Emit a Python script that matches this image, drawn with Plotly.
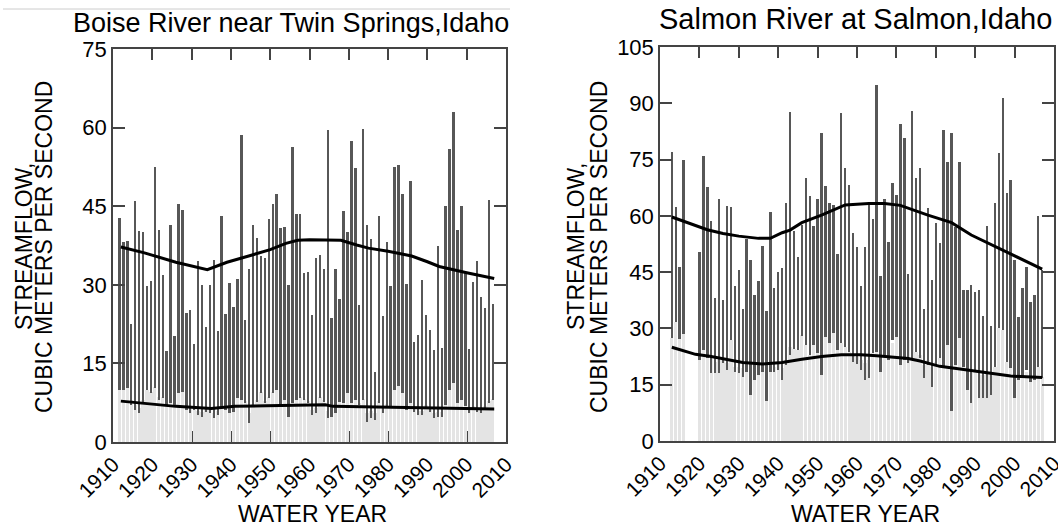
import plotly.graph_objects as go

# ---------------- DATA ----------------
boise_years = list(range(1912, 2008))
boise_high = [42.7, 38.1, 38.3, 22.5, 46.0, 40.2, 40.0, 29.7, 30.8, 52.4, 40.4, 31.8, 17.3, 41.4, 20.3, 45.5,
              44.2, 24.6, 25.1, 18.7, 34.6, 29.9, 21.9, 30.0, 34.8, 21.2, 43.2, 24.5, 30.3, 25.8, 31.2, 58.5,
              23.2, 33.0, 41.4, 38.9, 35.5, 35.1, 42.6, 45.5, 47.3, 40.8, 41.1, 29.9, 56.3, 43.6, 43.6, 32.3,
              32.4, 24.2, 35.1, 35.7, 33.1, 59.6, 23.7, 33.1, 27.2, 44.0, 40.0, 57.5, 52.2, 26.2, 59.7, 41.5,
              38.8, 13.3, 43.2, 24.0, 38.1, 29.7, 52.4, 52.9, 47.4, 30.2, 49.8, 19.0, 20.5, 30.9, 24.2, 21.3,
              17.6, 37.4, 17.9, 45.0, 55.9, 62.9, 40.5, 45.0, 32.3, 17.8, 30.5, 34.5, 27.7, 25.5, 46.2, 26.3]
boise_low = [9.9, 10.0, 10.3, 7.1, 6.1, 5.5, 7.4, 9.9, 9.3, 10.3, 8.0, 8.4, 6.8, 7.4, 7.1, 9.3,
             9.6, 6.1, 5.5, 6.1, 5.2, 4.8, 5.8, 5.5, 4.5, 5.2, 6.4, 6.1, 5.5, 5.8, 8.4, 8.0,
             7.4, 3.7, 6.8, 7.7, 9.3, 7.4, 8.4, 9.3, 9.9, 6.8, 8.0, 4.8, 7.4, 8.0, 8.4, 8.0,
             7.4, 5.2, 5.5, 8.4, 7.7, 4.5, 4.8, 5.5, 7.7, 7.4, 9.3, 7.4, 8.0, 7.1, 8.0, 3.9,
             4.5, 4.2, 7.4, 5.5, 6.8, 6.8, 9.9, 10.6, 9.3, 6.1, 7.4, 5.8, 5.2, 5.2, 6.4, 5.8,
             4.5, 4.8, 4.8, 7.1, 9.9, 11.2, 7.4, 8.0, 6.8, 5.5, 6.1, 5.8, 5.5, 6.1, 7.4, 8.0]
boise_light = [10.0, 10.2, 10.5, 8.0, 7.0, 6.5, 8.0, 10.0, 9.5, 10.5, 8.5, 8.5, 7.0, 7.8, 7.5, 9.5,
               9.8, 7.0, 6.5, 6.5, 6.0, 5.8, 6.5, 6.2, 5.5, 6.0, 7.0, 6.8, 6.5, 6.5, 8.5, 8.2,
               7.8, 5.5, 7.2, 8.0, 9.5, 7.8, 8.5, 9.5, 10.0, 7.2, 8.2, 6.0, 8.0, 8.2, 8.5, 8.2,
               7.8, 6.2, 6.5, 8.5, 8.0, 6.0, 6.0, 6.5, 8.0, 7.8, 9.5, 7.8, 8.2, 7.5, 8.2, 5.5,
               6.0, 5.5, 7.8, 6.5, 7.2, 7.2, 10.0, 10.8, 9.5, 6.8, 7.8, 6.5, 6.0, 6.0, 7.0, 6.5,
               5.5, 5.8, 5.8, 7.5, 10.0, 11.5, 8.0, 8.2, 7.2, 6.2, 6.8, 6.5, 6.2, 6.8, 7.8, 8.2]
boise_upper_years = [1912, 1918, 1926, 1931, 1934, 1939, 1945, 1950, 1954, 1957, 1960, 1964, 1968, 1972,
                     1975, 1980, 1986, 1990, 1993, 2000, 2007]
boise_upper = [37.2, 36.1, 34.3, 33.4, 32.9, 34.3, 35.6, 36.7, 37.9, 38.5, 38.6, 38.5, 38.5, 37.6,
               37.0, 36.4, 35.5, 34.4, 33.5, 32.3, 31.2]
boise_lower_years = [1912, 1920, 1926, 1935, 1941, 1949, 1960, 1964, 1966, 1977, 1990, 2000, 2007]
boise_lower = [7.8, 7.3, 6.8, 6.4, 6.8, 6.9, 7.1, 7.1, 6.8, 6.7, 6.5, 6.4, 6.3]

salmon_years = [1913, 1914, 1915, 1916] + list(range(1920, 2008))
salmon_high = [77.1, 62.3, 46.3, 74.9,
               50.5, 76.0, 67.7, 58.6, 38.2, 64.6, 37.7, 62.6, 62.4, 41.3, 45.7, 35.3, 53.8, 48.2,
               38.9, 42.6, 51.9, 34.7, 60.9, 40.7, 45.0, 46.0, 63.5, 87.6, 56.0, 49.1, 57.6, 70.0,
               65.4, 57.4, 64.4, 82.0, 68.0, 63.3, 62.9, 49.8, 87.5, 72.7, 68.2, 55.3, 51.8,
               41.3, 51.8, 63.8, 59.1, 94.9, 44.1, 64.4, 53.0, 68.7, 65.6, 84.4, 80.7, 44.4, 87.9,
               70.0, 72.7, 35.1, 62.0, 42.9, 58.2, 52.9, 82.9, 74.4, 82.2, 56.9, 74.4, 40.2, 40.2,
               41.6, 39.8, 40.2, 33.3, 57.3, 30.7, 63.3, 76.7, 91.5, 66.0, 69.6, 48.2, 33.1, 40.7,
               46.5, 37.1, 38.9, 60.0, 45.6]
salmon_low = [27.4, 31.8, 27.1, 28.5,
              21.6, 24.3, 22.0, 18.0, 18.0, 18.0, 20.7, 18.9, 26.9, 18.5, 18.0, 17.1, 18.5, 12.3,
              16.3, 17.6, 18.5, 10.7, 18.5, 18.5, 18.9, 16.3, 20.3, 22.9, 24.6, 24.3, 28.0, 25.6,
              22.9, 25.6, 23.4, 17.6, 27.7, 26.0, 28.9, 24.3, 26.0, 25.1, 23.8, 21.1, 20.5,
              18.9, 16.3, 16.7, 23.4, 23.8, 18.5, 22.9, 21.6, 26.9, 27.8, 20.3, 21.6, 20.7, 22.0,
              23.8, 22.0, 16.7, 20.3, 14.5, 20.3, 22.0, 19.8, 25.6, 8.1, 20.3, 27.4, 19.8, 13.6,
              10.0, 18.5, 11.4, 11.4, 11.4, 12.3, 19.8, 30.0, 29.6, 21.1, 19.4, 11.4, 16.3, 17.1,
              18.9, 15.8, 16.3, 19.8, 16.7]
salmon_light = [27.4, 31.8, 27.8, 28.5,
                26.5, 24.3, 22.5, 22.0, 21.1, 21.6, 21.6, 20.7, 26.9, 19.8, 19.8, 19.4, 20.3, 18.9,
                19.4, 20.0, 20.3, 18.5, 19.4, 19.8, 21.1, 19.4, 21.6, 25.1, 24.6, 24.3, 28.2, 25.6,
                22.9, 26.0, 23.4, 22.5, 28.6, 26.0, 31.4, 24.3, 26.0, 25.1, 23.8, 22.9, 22.5,
                21.6, 20.7, 21.6, 23.4, 23.8, 22.0, 22.9, 22.0, 26.0, 28.2, 21.6, 22.9, 26.9, 26.9,
                23.8, 22.9, 20.3, 21.6, 19.8, 21.1, 22.0, 20.7, 25.6, 19.4, 21.1, 27.4, 19.8, 18.5,
                18.0, 18.9, 17.6, 17.6, 18.0, 18.0, 19.8, 30.0, 29.6, 21.1, 19.4, 17.1, 17.6, 17.6,
                18.5, 17.1, 17.1, 19.8, 17.1]
salmon_upper_years = [1913, 1918, 1922, 1926, 1930, 1935, 1938, 1941, 1943, 1946, 1951, 1957, 1963,
                      1967, 1971, 1978, 1984, 1989, 1995, 2001, 2007]
salmon_upper = [59.7, 57.8, 56.3, 55.3, 54.6, 54.0, 54.0, 55.5, 56.2, 58.2, 60.2, 62.9, 63.3,
                63.3, 62.8, 60.2, 58.2, 54.9, 51.8, 48.7, 45.8]
salmon_lower_years = [1913, 1919, 1923, 1927, 1931, 1936, 1941, 1946, 1951, 1956, 1961, 1965, 1973,
                      1976, 1981, 1988, 1995, 1999, 2007]
salmon_lower = [25.0, 23.1, 22.5, 21.6, 20.9, 20.5, 20.9, 21.8, 22.5, 23.0, 23.0, 22.7, 22.0,
                21.3, 19.9, 18.9, 18.0, 17.3, 16.9]

x_ticks = list(range(1910, 2011, 10))
x_tick_labels = [str(v) for v in x_ticks]
boise_yticks = [0, 15, 30, 45, 60, 75]
salmon_yticks = [0, 15, 30, 45, 60, 75, 90, 105]

titles = ["Boise River near Twin Springs,Idaho", "Salmon River at Salmon,Idaho"]
ytitle_1 = "STREAMFLOW,"
ytitle_2 = "CUBIC METERS PER SECOND"
xtitle = "WATER YEAR"

# ---------------- STYLE ----------------
W, H = 1058, 529
FONT = "Liberation Sans, Arial, sans-serif"
LIGHT = "#e4e4e4"
DARK = "#575757"
AXC = "#444444"


def px(x):
    return x / W


def py(y):
    return 1 - y / H


fig = go.Figure()


def add_panel(xa, ya, years, light, low, high, uy, uv, ly, lv, shift):
    fig.add_trace(go.Bar(x=years, y=light, width=0.82, offset=shift - 0.41,
                         marker=dict(color=LIGHT, line_width=0), xaxis=xa, yaxis=ya,
                         hoverinfo="skip", showlegend=False))
    fig.add_trace(go.Bar(x=years, y=[h - l for h, l in zip(high, low)], base=low,
                         width=0.62, offset=shift - 0.31,
                         marker=dict(color=DARK, line_width=0), xaxis=xa, yaxis=ya,
                         showlegend=False))
    fig.add_trace(go.Scatter(x=uy, y=uv, mode="lines", line=dict(color="black", width=3),
                             xaxis=xa, yaxis=ya, showlegend=False))
    fig.add_trace(go.Scatter(x=ly, y=lv, mode="lines", line=dict(color="black", width=3),
                             xaxis=xa, yaxis=ya, showlegend=False))


add_panel("x", "y", boise_years, boise_light, boise_low, boise_high,
          boise_upper_years, boise_upper, boise_lower_years, boise_lower, -0.35)
add_panel("x2", "y2", salmon_years, salmon_light, salmon_low, salmon_high,
          salmon_upper_years, salmon_upper, salmon_lower_years, salmon_lower, 0.0)

common_x = dict(range=[1910, 2010], tickmode="array", tickvals=x_ticks, ticktext=x_tick_labels,
                tickangle=-45, ticks="inside", ticklen=11, tickwidth=1.5, tickcolor=AXC,
                showline=True, linecolor=AXC, linewidth=1.5, mirror="ticks", showgrid=False,
                zeroline=False, layer="below traces", automargin=False,
                ticklabeloverflow="allow",
                tickfont=dict(family=FONT, size=21, color="black"))
common_y = dict(tickmode="array", ticks="inside", ticklen=12, tickwidth=1.5, tickcolor=AXC,
                showline=True, linecolor=AXC, linewidth=1.5, mirror="ticks", showgrid=False,
                zeroline=False, automargin=False,
                tickfont=dict(family=FONT, size=22, color="black"))

fig.update_layout(
    width=W, height=H, margin=dict(l=0, r=0, t=0, b=0),
    paper_bgcolor="white", plot_bgcolor="white", barmode="overlay", bargap=0,
    showlegend=False,
    xaxis=dict(domain=[px(113), px(506)], anchor="y", **common_x),
    yaxis=dict(domain=[py(442), py(49)], anchor="x", range=[0, 75], tickvals=boise_yticks, **common_y),
    xaxis2=dict(domain=[px(660), px(1054)], anchor="y2", **common_x),
    yaxis2=dict(domain=[py(441), py(47)], anchor="x2", range=[0, 105], tickvals=salmon_yticks, **common_y),
)

ann = []
ann.append(dict(text=titles[0], x=px(291), y=py(23), xref="paper", yref="paper", showarrow=False,
                xanchor="center", yanchor="middle", font=dict(family=FONT, size=27, color="black")))
ann.append(dict(text=titles[1], x=px(855), y=py(19), xref="paper", yref="paper", showarrow=False,
                xanchor="center", yanchor="middle", font=dict(family=FONT, size=29, color="black")))
for cx1, cx2 in [(24, 44), (576, 599)]:
    ann.append(dict(text=ytitle_1, x=px(cx1), y=py(247), xref="paper", yref="paper", showarrow=False,
                    textangle=-90, xanchor="center", yanchor="middle",
                    font=dict(family=FONT, size=23, color="black")))
    ann.append(dict(text=ytitle_2, x=px(cx2), y=py(247), xref="paper", yref="paper", showarrow=False,
                    textangle=-90, xanchor="center", yanchor="middle",
                    font=dict(family=FONT, size=23, color="black")))
for cx in [312, 865]:
    ann.append(dict(text=xtitle, x=px(cx), y=py(514), xref="paper", yref="paper", showarrow=False,
                    xanchor="center", yanchor="middle", font=dict(family=FONT, size=23, color="black")))
fig.update_layout(annotations=ann)

fig.add_shape(type="line", xref="paper", yref="paper", x0=px(3), x1=px(510), y0=py(9), y1=py(9),
              line=dict(color="#cccccc", width=1))

fig.write_html("out.html", config={"displayModeBar": False},
               post_script="document.body.style.margin='0';document.body.style.padding='0';"
                           "document.documentElement.style.overflow='hidden';")
